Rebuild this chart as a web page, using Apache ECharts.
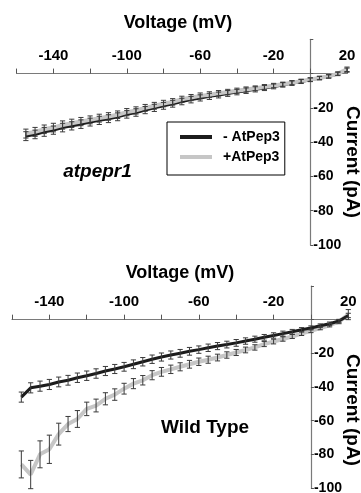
<!DOCTYPE html>
<html>
<head>
<meta charset="utf-8">
<script src="https://cdn.jsdelivr.net/npm/echarts@6/dist/echarts.min.js"></script>
<style>
html,body{margin:0;padding:0;background:#fff;}
#chart{width:361px;height:493px;}
</style>
</head>
<body>
<div id="chart"></div>
<script>
// ---- data ----
const voltages = [-155,-150,-145,-140,-135,-130,-125,-120,-115,-110,-105,-100,-95,-90,-85,-80,-75,-70,-65,-60,-55,-50,-45,-40,-35,-30,-25,-20,-15,-10,-5,0,5,10,15,20];
const xTickLabels = [-140,-100,-60,-20,20];
const yTickLabels = [-20,-40,-60,-80,-100];
const seriesNames = ['- AtPep3', '+AtPep3'];
const panelLabels = ['atpepr1', 'Wild Type'];

// atpepr1 panel
const mutMinus = [-36.5,-35.5,-34.0,-33.0,-31.5,-30.5,-29.5,-28.3,-27.3,-26.3,-25.2,-23.8,-22.7,-21.3,-20.0,-18.8,-17.6,-16.3,-15.2,-14.2,-13.3,-12.5,-11.6,-10.8,-10.0,-9.2,-8.4,-7.5,-6.6,-5.6,-4.6,-3.6,-2.6,-1.7,-0.2,2.0];
const mutMinusErr = [2.6,2.5,2.6,2.4,2.5,2.4,2.5,2.3,2.4,2.3,2.3,2.2,2.2,2.1,2.1,2.0,2.0,1.9,1.9,1.8,1.8,1.7,1.7,1.6,1.6,1.5,1.5,1.4,1.3,1.3,1.2,1.1,1.0,1.0,1.0,1.2];
const mutPlus = [-35.0,-34.0,-32.5,-31.5,-30.0,-29.0,-28.0,-27.0,-26.0,-25.0,-24.0,-22.5,-21.5,-20.0,-18.8,-17.5,-16.5,-15.0,-14.0,-13.0,-12.3,-11.5,-10.8,-10.0,-9.3,-8.6,-7.8,-7.0,-6.2,-5.3,-4.4,-3.5,-2.6,-1.6,0.0,2.5];
const mutPlusErr = [2.6,2.6,2.5,2.5,2.4,2.4,2.4,2.3,2.3,2.2,2.2,2.1,2.1,2.0,2.0,1.9,1.9,1.8,1.8,1.7,1.7,1.6,1.6,1.5,1.5,1.4,1.4,1.3,1.2,1.2,1.1,1.0,1.0,1.0,1.0,1.3];

// Wild Type panel
const wtMinus = [-46.0,-40.5,-39.5,-38.5,-37.0,-36.0,-34.5,-33.3,-32.0,-30.5,-29.3,-28.0,-26.5,-25.0,-23.5,-22.2,-21.0,-20.0,-18.8,-17.8,-16.7,-15.7,-14.8,-13.8,-12.7,-11.6,-10.5,-9.4,-8.3,-7.2,-6.0,-4.9,-3.6,-2.4,-0.8,2.5];
const wtMinusErr = [3.0,3.0,3.0,3.0,2.9,2.9,2.8,2.8,2.8,2.7,2.7,2.6,2.6,2.5,2.5,2.4,2.4,2.3,2.3,2.2,2.2,2.1,2.0,2.0,1.9,1.8,1.7,1.6,1.5,1.4,1.3,1.2,1.1,1.0,1.0,1.3];
const wtPlus = [-86.0,-92.0,-80.0,-77.0,-68.0,-62.0,-59.0,-53.0,-51.0,-47.0,-44.5,-41.0,-38.0,-36.0,-33.0,-31.0,-29.5,-28.0,-26.5,-25.0,-23.8,-22.5,-21.0,-19.5,-18.0,-16.5,-14.5,-13.0,-11.5,-10.0,-8.3,-6.7,-5.0,-3.3,-1.2,3.0];
const wtPlusErr = [8.0,8.4,8.0,8.4,6.5,4.5,5.0,4.0,3.8,3.6,3.4,3.2,3.0,2.8,2.7,2.6,2.5,2.4,2.3,2.2,2.1,2.0,1.9,1.8,1.7,1.6,1.5,1.4,1.3,1.2,1.1,1.0,1.0,1.0,1.2,3.0];

// ---- build ----
function pts(vals){ return voltages.map((v,i)=>[v, vals[i]]); }
function errs(vals, e){ return voltages.map((v,i)=>[v, vals[i]-e[i], vals[i]+e[i]]); }

const BLACK = '#1c1c1c', GRAY = '#c6c6c6', AXIS = '#7a7a7a', BAR = '#3a3a3a';
const FONT = '"Liberation Sans", Arial, sans-serif';
const X_MIN = -160, X_MAX = 20, Y_MIN = -100, Y_MAX = 20;

const grids = [
  {left:16.7, top:39.3, width:330.3, height:205.7},
  {left:12, top:286, width:336.3, height:202}
];

function renderErr(params, api){
  const x = api.value(0), lo = api.value(1), hi = api.value(2);
  const a = api.coord([x, lo]), b = api.coord([x, hi]);
  const w = 2.6;
  const st = {stroke: BAR, lineWidth: 1};
  return {type:'group', children:[
    {type:'line', shape:{x1:a[0], y1:a[1], x2:b[0], y2:b[1]}, style:st},
    {type:'line', shape:{x1:a[0]-w, y1:a[1], x2:a[0]+w, y2:a[1]}, style:st},
    {type:'line', shape:{x1:b[0]-w, y1:b[1], x2:b[0]+w, y2:b[1]}, style:st}
  ]};
}

function xAxisCfg(gi){
  const g = grids[gi];
  // shift the top axis down so that it sits on current = 0
  const off = -g.height * (Y_MAX - 0) / (Y_MAX - Y_MIN);
  return {
    gridIndex: gi, type:'value', min:X_MIN, max:X_MAX, interval:20, position:'top', offset: off,
    axisLine:{onZero:false, lineStyle:{color:AXIS, width:1.2}},
    axisTick:{inside:false, length:5, lineStyle:{color:'#555'}},
    splitLine:{show:false},
    axisLabel:{margin:10, color:'#000', fontWeight:'bold', fontSize:15, fontFamily:FONT,
      formatter: v => xTickLabels.indexOf(v) >= 0 ? String(v) : ''}
  };
}
function yAxisCfg(gi){
  const g = grids[gi];
  // shift the right axis left so that it sits on voltage = 0
  const off = -g.width * (X_MAX - 0) / (X_MAX - X_MIN);
  return {
    gridIndex: gi, type:'value', min:Y_MIN, max:Y_MAX, interval:20, position:'right', offset: off,
    axisLine:{onZero:false, lineStyle:{color:AXIS, width:1.2}},
    axisTick:{inside:false, length:3, lineStyle:{color:'#555'}},
    splitLine:{show:false},
    axisLabel:{margin:3, color:'#000', fontWeight:'bold', fontSize:14, fontFamily:FONT,
      formatter: v => yTickLabels.indexOf(v) >= 0 ? String(v) : ''}
  };
}

function lineSeries(name, gi, vals, color, width, z){
  return {name, type:'line', xAxisIndex:gi, yAxisIndex:gi, data:pts(vals), showSymbol:false,
    symbol:'none', lineStyle:{color, width}, itemStyle:{color}, z, animation:false};
}
function errSeries(gi, vals, e, z){
  return {name:'err'+gi+'_'+z, type:'custom', xAxisIndex:gi, yAxisIndex:gi, data:errs(vals,e),
    renderItem: renderErr, encode:{x:0, y:[1,2]}, z, animation:false, silent:true};
}

const chart = echarts.init(document.getElementById('chart'), null, {renderer:'canvas'});
chart.setOption({
  backgroundColor:'#fff',
  animation:false,
  grid: grids.map(g => Object.assign({containLabel:false, outerBoundsMode:'none'}, g)),
  xAxis:[xAxisCfg(0), xAxisCfg(1)],
  yAxis:[yAxisCfg(0), yAxisCfg(1)],
  legend:{
    data: seriesNames, orient:'vertical', left:167, top:122,
    icon:'rect', itemWidth:32, itemHeight:4, itemGap:6,
    padding:[8, 5, 11, 13], borderColor:'#000', borderWidth:1,
    textStyle:{color:'#000', fontWeight:'bold', fontSize:14, fontFamily:FONT, padding:[0,0,0,6]},
    selectedMode:false
  },
  series:[
    lineSeries(seriesNames[0], 0, mutMinus, BLACK, 3, 2),
    lineSeries(seriesNames[1], 0, mutPlus, GRAY, 4, 3),
    errSeries(0, mutMinus, mutMinusErr, 4),
    errSeries(0, mutPlus, mutPlusErr, 5),
    lineSeries(seriesNames[1], 1, wtPlus, GRAY, 4, 2),
    lineSeries(seriesNames[0], 1, wtMinus, BLACK, 3, 3),
    errSeries(1, wtPlus, wtPlusErr, 4),
    errSeries(1, wtMinus, wtMinusErr, 5)
  ],
  graphic:[
    {type:'text', x:178, y:23, style:{text:'Voltage (mV)', fill:'#000', font:'bold 18px '+FONT, textAlign:'center', textVerticalAlign:'middle'}},
    {type:'text', x:180, y:273, style:{text:'Voltage (mV)', fill:'#000', font:'bold 18px '+FONT, textAlign:'center', textVerticalAlign:'middle'}},
    {type:'text', x:352, y:162, rotation:-Math.PI/2, style:{text:'Current (pA)', fill:'#000', font:'bold 19px '+FONT, textAlign:'center', textVerticalAlign:'middle'}},
    {type:'text', x:352, y:410, rotation:-Math.PI/2, style:{text:'Current (pA)', fill:'#000', font:'bold 19px '+FONT, textAlign:'center', textVerticalAlign:'middle'}},
    {type:'text', x:97.5, y:172, style:{text:panelLabels[0], fill:'#000', font:'italic bold 19px '+FONT, textAlign:'center', textVerticalAlign:'middle'}},
    {type:'text', x:205, y:428, style:{text:panelLabels[1], fill:'#000', font:'bold 19px '+FONT, textAlign:'center', textVerticalAlign:'middle'}}
  ]
});
</script>
</body>
</html>
